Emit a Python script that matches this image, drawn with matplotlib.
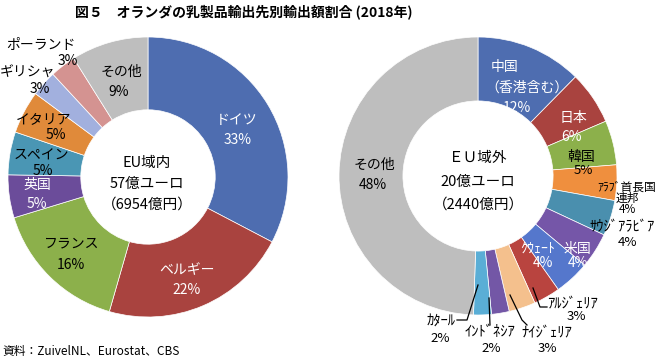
import matplotlib
matplotlib.use("Agg")
import matplotlib.pyplot as plt
from matplotlib.lines import Line2D

plt.rcParams['font.family'] = ['Noto Sans CJK JP', 'DejaVu Sans']

W, H = 659, 360

# ---- data ----
eu_in_labels = ["ドイツ", "ベルギー", "フランス", "英国", "スペイン", "イタリア", "ギリシャ", "ポーランド", "その他"]
eu_in_values = [33, 22, 16, 5, 5, 5, 3, 3, 9]
eu_in_colors = ['#4E6DB0', '#A9433F', '#8CB04B', '#6B4C9A', '#4A96B4', '#E08A3A', '#A2B0DE', '#D49391', '#BEBEBE']

eu_out_labels = ["中国（香港含む）", "日本", "韓国", "ｱﾗﾌﾞ首長国連邦", "ｻｳｼﾞｱﾗﾋﾞｱ", "米国", "ｸｳｪｰﾄ",
                 "ｱﾙｼﾞｪﾘｱ", "ﾅｲｼﾞｪﾘｱ", "ｲﾝﾄﾞﾈｼｱ", "ｶﾀｰﾙ", "その他"]
eu_out_values = [12, 6, 5, 4, 4, 4, 4, 3, 3, 2, 2, 48]
eu_out_colors = ['#4E6DB0', '#A9433F', '#8CB04B', '#EF8F3E', '#4A8FAE', '#7556A8', '#5577CC',
                 '#B9443F', '#F4C08D', '#7357A6', '#5AAED6', '#BEBEBE']

fig = plt.figure(figsize=(W / 100, H / 100), dpi=100)
fig.patch.set_facecolor('white')


def px_axes(cx, cy, r):
    return fig.add_axes([(cx - r) / W, 1 - (cy + r) / H, 2 * r / W, 2 * r / H])


def ftext(s, x, y, color='black', size=9, **kw):
    fig.text(x / W, 1 - y / H, s, color=color, fontsize=size, ha='center', va='center', **kw)


def fline(xs, ys):
    fig.add_artist(Line2D([x / W for x in xs], [1 - y / H for y in ys], color='black', lw=0.9))


# ---- left donut ----
axL = px_axes(148, 177, 140)
axL.pie(eu_in_values, colors=eu_in_colors, startangle=90, counterclock=False,
        radius=1.0, wedgeprops=dict(width=0.52, edgecolor='white', linewidth=0.5))
axL.set_aspect('auto')
axL.set_xlim(-1, 1)
axL.set_ylim(-1, 1)
axL.axis('off')

WH, BK = 'white', 'black'
left_text = [
    ("ドイツ", 237, 120, WH), ("33%", 238, 140, WH),
    ("ベルギー", 187, 270, WH), ("22%", 187, 290, WH),
    ("フランス", 72, 243, BK), ("16%", 71, 265, BK),
    ("英国", 37, 185, WH), ("5%", 37, 204, WH),
    ("スペイン", 41, 156, BK), ("5%", 43, 171, BK),
    ("イタリア", 44, 120, BK), ("5%", 56, 135, BK),
    ("ギリシャ", 28, 73, BK), ("3%", 40, 89, BK),
    ("ポーランド", 41, 45, BK), ("3%", 68, 61, BK),
    ("その他", 121, 72, BK), ("9%", 119, 92, BK),
]
for s, x, y, c in left_text:
    ftext(s, x, y, c, size=10)
ftext("EU域内", 147, 163, size=10.5)
ftext("57億ユーロ", 147, 184, size=10.5)
ftext("（6954億円）", 147, 205, size=10.5)

# ---- right donut ----
axR = px_axes(478, 176, 139)
axR.pie(eu_out_values, colors=eu_out_colors, startangle=90, counterclock=False,
        radius=1.0, wedgeprops=dict(width=0.46, edgecolor='white', linewidth=0.5))
axR.set_aspect('auto')
axR.set_xlim(-1, 1)
axR.set_ylim(-1, 1)
axR.axis('off')

right_text = [
    ("中国", 505, 67, WH, 10), ("（香港含む）", 527, 88, WH, 10), ("12%", 517, 108, WH, 10),
    ("日本", 573, 118, WH, 10), ("6%", 572, 137, WH, 10),
    ("韓国", 581, 157, BK, 10), ("5%", 583, 171, BK, 9.5),
    ("ｻｳｼﾞｱﾗﾋﾞｱ", 622, 227, BK, 10.5), ("4%", 627, 242, BK, 9.5),
    ("米国", 577, 249, WH, 10), ("4%", 578, 263, WH, 10),
    ("ｸｳｪｰﾄ", 538, 249, WH, 10), ("4%", 543, 263, WH, 10),
    ("ｱﾙｼﾞｪﾘｱ", 572, 303, BK, 10.5), ("3%", 576, 317, BK, 9.5),
    ("ﾅｲｼﾞｪﾘｱ", 547, 332, BK, 10.5), ("3%", 547, 348, BK, 9.5),
    ("ｲﾝﾄﾞﾈｼｱ", 490, 332, BK, 10.5), ("2%", 491, 348, BK, 9.5),
    ("ｶﾀｰﾙ", 441, 322, BK, 10.5), ("2%", 440, 338, BK, 9.5),
    ("その他", 374, 165, BK, 10), ("48%", 373, 185, BK, 10),
]
for s, x, y, c, sz in right_text:
    ftext(s, x, y, c, size=sz)
fig.text(627 / W, 1 - 198 / H, "ｱﾗﾌﾞ首長国\n連邦\n4%", fontsize=8.5, ha='center', va='center',
         multialignment='center', linespacing=0.82)
ftext("ＥＵ域外", 478, 158, size=10.5)
ftext("20億ユーロ", 478, 182, size=10.5)
ftext("（2440億円）", 478, 205, size=10.5)

# leader lines
fline([478, 467, 457], [285, 320, 320])
fline([489, 490], [298, 325])
fline([510, 522, 527], [295, 320, 325])
fline([533, 540, 547], [288, 307, 307])

# title & source
ftext("図５　オランダの乳製品輸出先別輸出額割合 (2018年)", 244, 12, size=10, fontweight='bold')
fig.text(2 / W, 1 - 351 / H, "資料：ZuivelNL、Eurostat、CBS", fontsize=8.5, ha='left', va='center')

fig.savefig("out.png", dpi=100, facecolor='white')
